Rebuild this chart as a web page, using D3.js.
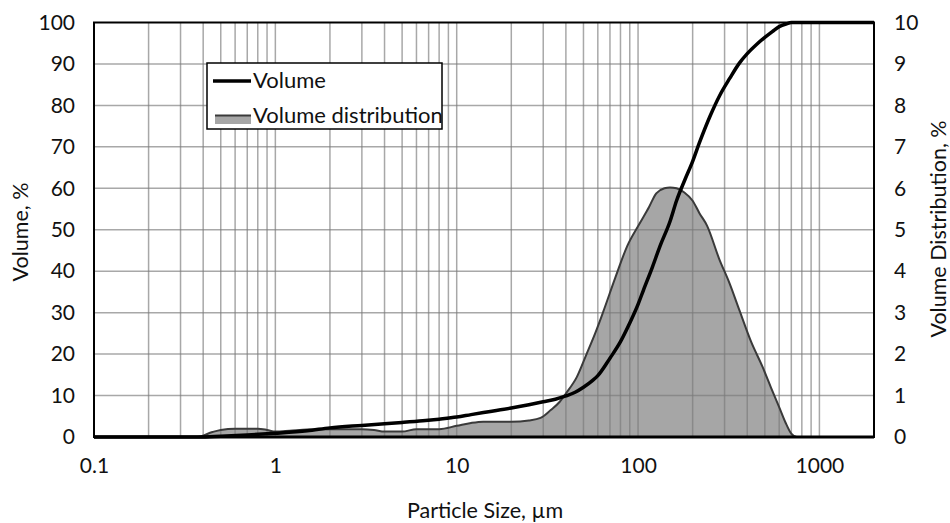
<!DOCTYPE html>
<html><head><meta charset="utf-8">
<script src="https://cdn.jsdelivr.net/npm/d3@7"></script>
<style>body{margin:0;background:#fff;} svg{display:block;}</style>
</head><body>
<svg id="chart" width="950" height="523"></svg>
<script>
// Volume distribution (right axis, %)
const distSizes = [0.1,0.3,0.37,0.45,0.5,0.6,0.8,0.9,1.0,1.2,1.5,2,3,3.5,4,5,6,8,10,12,14,20,25,29,33,37,40,46,52,58,64,75,87,102,115,126,140,150,163,180,200,218,240,280,320,362,420,486,540,600,650,700,750,2000];
const distValues = [0,0,0,0.12,0.17,0.2,0.2,0.17,0.13,0.15,0.18,0.19,0.19,0.17,0.13,0.13,0.19,0.19,0.27,0.34,0.37,0.37,0.4,0.46,0.65,0.85,1.05,1.45,2.0,2.5,3.0,3.85,4.6,5.15,5.55,5.88,6.0,6.02,6.0,5.9,5.7,5.4,5.1,4.3,3.7,3.06,2.3,1.69,1.2,0.72,0.35,0.08,0,0];
// Cumulative volume (left axis, %)
const cumSizes = [0.1,0.38,0.5,0.7,1,1.5,2,3,4,5,6.5,8,10,12,15,20,25,30,35,40,45,50,56,60,70,80,90,100,107,120,132,150,163,181,200,218,250,282,320,362,400,450,500,550,600,660,700,2000];
const cumValues = [0,0,0.2,0.5,0.9,1.5,2.2,2.8,3.2,3.5,3.9,4.3,4.8,5.4,6.1,7.0,7.8,8.5,9.1,9.9,10.8,12.0,13.6,14.8,19,23,27.5,32,35.4,41,46,52,57,62,66.5,71,77.5,82.4,86.5,90.2,92.5,94.7,96.4,97.8,99,99.7,100,100];
const xTickValues = [0.1,1,10,100,1000];
const xTickLabels = ["0.1","1","10","100","1000"];
const leftTicks = [0,10,20,30,40,50,60,70,80,90,100];
const rightTicks = [0,1,2,3,4,5,6,7,8,9,10];
const seriesNames = ["Volume","Volume distribution"];
const titles = {x:"Particle Size, \u00b5m", yl:"Volume, %", yr:"Volume Distribution, %"};

const svg = d3.select("#chart");
const FONT = "Lato, 'Open Sans', sans-serif";
const L = 94, R = 874, T = 22.5, B = 437;
const x = d3.scaleLog().domain([0.1,2000]).range([L,R]);
const yL = d3.scaleLinear().domain([0,100]).range([B,T]);
const yR = d3.scaleLinear().domain([0,10]).range([B,T]);

// minor grid values
const gridX = [];
for (let e=-1;e<=3;e++){ for (let m=1;m<=9;m++){ const v=m*Math.pow(10,e); if(v>0.1 && v<2000) gridX.push(v);} }

// area
const area = d3.area().x((d,i)=>x(distSizes[i])).y0(B).y1(d=>yR(d)).curve(d3.curveMonotoneX);
const line2 = d3.line().x((d,i)=>x(distSizes[i])).y(d=>yR(d)).curve(d3.curveMonotoneX);
svg.append("path").attr("d", area(distValues)).attr("fill","#a6a6a6");

// grid on top (semi transparent)
const g = svg.append("g").attr("stroke","#7a7a7a").attr("stroke-opacity",0.65).attr("stroke-width",1.5);
gridX.forEach(v=>g.append("line").attr("x1",x(v)).attr("x2",x(v)).attr("y1",T).attr("y2",B));
leftTicks.slice(1,-1).forEach(v=>g.append("line").attr("x1",L).attr("x2",R).attr("y1",yL(v)).attr("y2",yL(v)));

svg.append("path").attr("d", line2(distValues)).attr("fill","none").attr("stroke","#3a3a3a").attr("stroke-width",2);

// cumulative line
const line1 = d3.line().x((d,i)=>x(cumSizes[i])).y(d=>yL(d)).curve(d3.curveMonotoneX);
svg.append("path").attr("d", line1(cumValues)).attr("fill","none").attr("stroke","#000").attr("stroke-width",3.5).attr("stroke-linejoin","round");

// frame
svg.append("rect").attr("x",L).attr("y",T).attr("width",R-L).attr("height",B-T).attr("fill","none").attr("stroke","#000").attr("stroke-width",2);
svg.append("line").attr("x1",L).attr("x2",R).attr("y1",B).attr("y2",B).attr("stroke","#000").attr("stroke-width",3);

// axes (tick labels only)
const axB = d3.axisBottom(x).tickValues(xTickValues).tickFormat((d,i)=>xTickLabels[i]).tickSize(0).tickPadding(21);
const gb = svg.append("g").attr("transform",`translate(0,${B})`).call(axB);
const axLf = d3.axisLeft(yL).tickValues(leftTicks).tickSize(0).tickPadding(19);
const gl = svg.append("g").attr("transform",`translate(${L},0)`).call(axLf);
const axRt = d3.axisRight(yR).tickValues(rightTicks).tickSize(0).tickPadding(20);
const gr = svg.append("g").attr("transform",`translate(${R},0)`).call(axRt);
[gb,gl,gr].forEach(a=>{a.select(".domain").remove(); a.selectAll("text").attr("font-family",FONT).attr("font-size",21).attr("fill","#111");});

// titles
svg.append("text").attr("x",485).attr("y",518).attr("text-anchor","middle").attr("font-family",FONT).attr("font-size",21.5).attr("fill","#111").text(titles.x);
svg.append("text").attr("transform","translate(28,232) rotate(-90)").attr("text-anchor","middle").attr("font-family",FONT).attr("font-size",21.5).attr("fill","#111").text(titles.yl);
svg.append("text").attr("transform","translate(946,229) rotate(-90)").attr("text-anchor","middle").attr("font-family",FONT).attr("font-size",21.5).attr("fill","#111").text(titles.yr);

// legend
const lg = svg.append("g");
lg.append("rect").attr("x",207).attr("y",63).attr("width",235).attr("height",66).attr("fill","#fff").attr("stroke","#000").attr("stroke-width",1.5);
lg.append("line").attr("x1",213).attr("x2",251).attr("y1",81).attr("y2",81).attr("stroke","#000").attr("stroke-width",3.5);
lg.append("text").attr("x",253).attr("y",88).attr("font-family",FONT).attr("font-size",22).attr("fill","#111").text(seriesNames[0]);
lg.append("rect").attr("x",215).attr("y",115).attr("width",36).attr("height",9).attr("fill","#a6a6a6");
lg.append("line").attr("x1",215).attr("x2",251).attr("y1",115.5).attr("y2",115.5).attr("stroke","#3a3a3a").attr("stroke-width",2);
lg.append("text").attr("x",253).attr("y",123).attr("font-family",FONT).attr("font-size",22).attr("fill","#111").text(seriesNames[1]);
</script>
</body></html>
